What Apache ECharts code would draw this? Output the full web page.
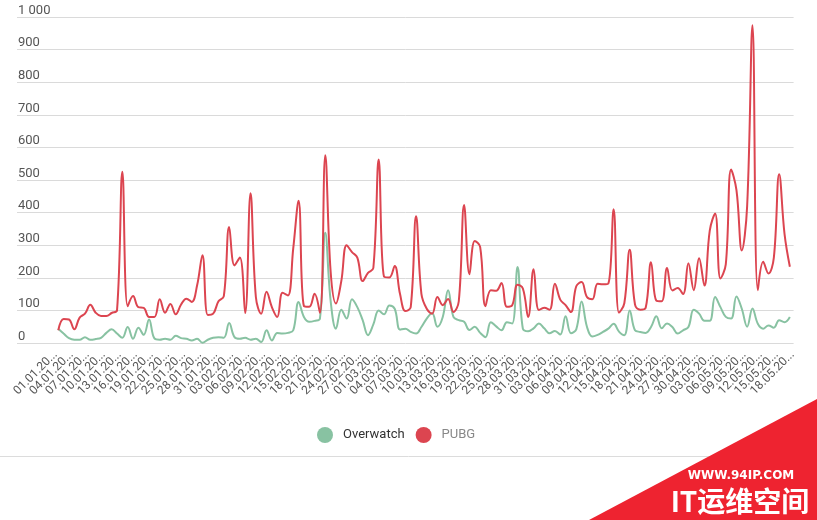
<!DOCTYPE html>
<html>
<head>
<meta charset="utf-8">
<title>Overwatch / PUBG</title>
<script src="https://cdn.jsdelivr.net/npm/echarts@6/dist/echarts.min.js"></script>
<style>
	html, body { margin: 0; padding: 0; background: #fff; }
	#chart { width: 817px; height: 520px; }
</style>
</head>
<body>
<div id="chart"></div>
<script type="text/javascript">

	// one value per day, 01.01.2020 .. 17.05.2020
	var overwatch = [
		44,29,15,10,10,18,10,12,16,31,
		42,29,16,49,13,47,25,72,14,10,
		13,10,22,15,13,8,13,1,10,16,
		18,16,61,18,13,16,10,13,3,39,
		8,31,29,31,39,126,80,65,68,75,
		338,130,44,102,75,134,110,70,24,57,
		100,88,115,105,41,44,34,29,49,75,
		92,50,80,162,80,70,65,40,50,31,
		18,64,51,39,64,60,233,44,36,45,
		60,45,30,37,26,82,30,42,127,50,
		20,25,34,44,59,35,24,100,39,34,
		31,49,82,45,60,49,29,39,49,102,
		90,68,68,141,110,80,75,143,105,50,
		106,59,44,54,47,70,64,80
	];

	var pubg = [
		39,74,72,42,78,90,117,93,83,83,
		92,100,525,113,144,110,108,80,80,134,
		93,120,88,118,136,126,177,269,86,90,
		128,144,356,238,262,92,459,141,90,157,
		110,80,154,146,290,436,113,111,151,93,
		576,220,121,190,300,279,262,190,215,230,
		563,203,201,236,150,98,110,389,151,105,
		90,141,116,135,95,128,423,211,313,295,
		113,162,160,184,111,116,179,167,80,226,
		101,108,102,182,133,116,95,174,187,141,
		134,182,180,182,410,93,122,286,118,102,
		108,248,130,128,230,161,169,150,245,162,
		260,176,345,397,198,241,532,469,284,420,
		975,162,249,213,262,518,335,234
	];

	// axis labels, every third day
	var tickLabels = [
		'01.01.2020','04.01.2020','07.01.2020','10.01.2020','13.01.2020','16.01.2020',
		'19.01.2020','22.01.2020','25.01.2020','28.01.2020','31.01.2020','03.02.2020',
		'06.02.2020','09.02.2020','12.02.2020','15.02.2020','18.02.2020','21.02.2020',
		'24.02.2020','27.02.2020','01.03.2020','04.03.2020','07.03.2020','10.03.2020',
		'13.03.2020','16.03.2020','19.03.2020','22.03.2020','25.03.2020','28.03.2020',
		'31.03.2020','03.04.2020','06.04.2020','09.04.2020','12.04.2020','15.04.2020',
		'18.04.2020','21.04.2020','24.04.2020','27.04.2020','30.04.2020','03.05.2020',
		'06.05.2020','09.05.2020','12.05.2020','15.05.2020','18.05.2020'
	];

	var seriesNames = ['Overwatch', 'PUBG'];
	var colors = ['#88c2a2', '#dc4550'];

	function toPoints(arr) {
		return arr.map(function (v, i) { return [i, v]; });
	}

	// labels sit on the start of each day cell, points in the middle
	var labelPos = tickLabels.map(function (t, k) { return k * 3 - 0.5; });
	// blank end labels so the axis does not drop the first/last date
	var labelSlots = [-7].concat(labelPos, [137.6]);

	var chart = echarts.init(document.getElementById('chart'), null, { renderer: 'canvas' });

	chart.setOption({
		animation: false,
		backgroundColor: '#fff',
		textStyle: { fontFamily: 'Roboto' },
		color: colors,
		grid: {
			left: 17, right: 23.4, top: 17, bottom: 177,
			containLabel: false,
			outerBoundsMode: 'none'
		},
		legend: {
			data: [
				{ name: seriesNames[0], textStyle: { color: '#333' } },
				{ name: seriesNames[1], textStyle: { color: '#888' } }
			],
			left: 312,
			top: 422,
			icon: 'circle',
			itemWidth: 16,
			itemHeight: 16,
			itemGap: 11,
			textStyle: { fontSize: 13, fontFamily: 'Roboto', padding: [0, 0, 0, 5] }
		},
		xAxis: {
			type: 'value',
			min: -7.73,
			max: 137.7,
			axisLine: { show: false },
			axisTick: { show: false },
			splitLine: { show: false },
			axisLabel: {
				customValues: labelSlots,
				hideOverlap: false,
				rotate: 45,
				margin: 10,
				fontSize: 12,
				color: '#555',
				fontFamily: 'Roboto',
				formatter: function (val) {
					if (val < -0.6 || val > 137.55) return '';
					var t = tickLabels[Math.round((val + 0.5) / 3)] || '';
					// labels are cut short on the original axis
					return t.slice(0, 8) + '...';
				}
			}
		},
		yAxis: {
			type: 'value',
			min: 0,
			max: 1000,
			interval: 100,
			axisLine: { show: false },
			axisTick: { show: false },
			splitLine: { lineStyle: { color: '#dadada', width: 1 } },
			axisLabel: {
				inside: true,
				margin: 1,
				verticalAlign: 'bottom',
				fontSize: 13,
				color: '#555',
				fontFamily: 'Roboto',
				formatter: function (v) {
					return v >= 1000 ? String(v).replace(/\B(?=(\d{3})+(?!\d))/g, ' ') : String(v);
				}
			}
		},
		series: [
			{
				name: seriesNames[0],
				type: 'line',
				data: toPoints(overwatch),
				smooth: 0.4,
				showSymbol: false,
				lineStyle: { width: 2, color: colors[0] }
			},
			{
				name: seriesNames[1],
				type: 'line',
				data: toPoints(pubg),
				smooth: 0.4,
				showSymbol: false,
				lineStyle: { width: 2, color: colors[1] }
			}
		],
		graphic: [
			{
				type: 'line',
				shape: { x1: 0, y1: 456.5, x2: 817, y2: 456.5 },
				style: { stroke: '#dcdcdc', lineWidth: 1 }
			},
			{
				type: 'polygon',
				shape: { points: [[589, 520], [817, 399], [817, 520]] },
				style: { fill: '#ee2330' }
			},
			{
				type: 'text',
				x: 741, y: 476,
				style: {
					text: 'WWW.94IP.COM',
					fill: '#fff',
					font: 'bold 12px "DejaVu Sans"',
					align: 'center',
					verticalAlign: 'middle'
				}
			},
			{
				type: 'text',
				x: 740, y: 501,
				style: {
					text: 'IT运维空间',
					fill: '#fff',
					font: 'bold 28px "Noto Sans CJK SC"',
					align: 'center',
					verticalAlign: 'middle'
				}
			}
		]
	});

</script>
</body>
</html>
